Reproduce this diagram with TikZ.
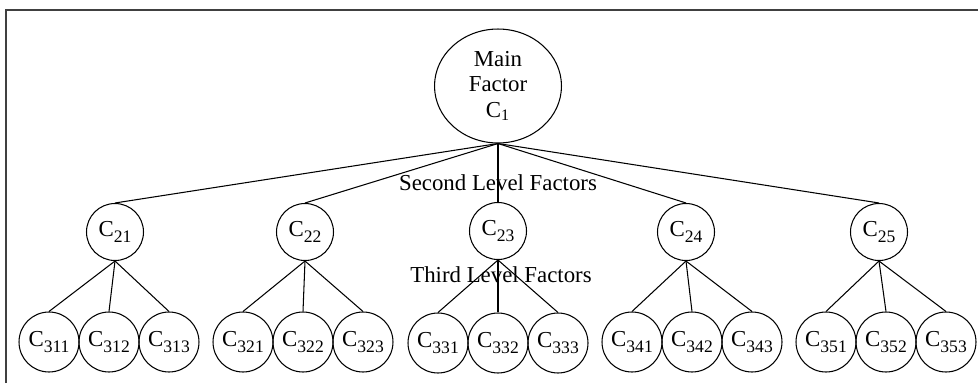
\documentclass[tikz,border=0pt]{standalone}
\usepackage{fontspec}
\setmainfont{Liberation Serif}
\usetikzlibrary{shapes.geometric}

% factor label: C with a large, low subscript
\newcommand{\fac}[1]{C\raisebox{-3.5pt}{\fontsize{10}{10}\selectfont #1}}

\begin{document}
\begin{tikzpicture}[x=0.02cm,y=-0.02cm,line width=0.6pt,
    font=\fontsize{13}{14.5}\selectfont]

        \useasboundingbox (0,0) rectangle (978,383);
        \draw[line width=1.2pt,black!75] (6,383) -- (6,10) -- (978,10);

        \node[ellipse,draw,minimum width=2.54cm,minimum height=2.28cm,
          inner sep=0pt,align=center] (c1) at (498,86)
          {Main\\Factor\\C\textsubscript{1}};

        \begin{scope}[every node/.style={circle,draw,minimum size=1.14cm,inner sep=0pt}]
          \node (c21) at (115,232) {\fac{21}};
          \node (c22) at (305,232) {\fac{22}};
          \node (c23) at (498,231) {\fac{23}};
          \node (c24) at (686,232) {\fac{24}};
          \node (c25) at (879,232) {\fac{25}};
        \end{scope}

        \begin{scope}[every node/.style={circle,draw,minimum size=1.2cm,inner sep=0pt}]
          \node (c311) at (49,342)  {\fac{311}};
          \node (c312) at (109,342) {\fac{312}};
          \node (c313) at (169,342) {\fac{313}};
          \node (c321) at (243,342) {\fac{321}};
          \node (c322) at (303,342) {\fac{322}};
          \node (c323) at (363,342) {\fac{323}};
          \node (c331) at (438,343) {\fac{331}};
          \node (c332) at (498,343) {\fac{332}};
          \node (c333) at (558,343) {\fac{333}};
          \node (c341) at (632,342) {\fac{341}};
          \node (c342) at (692,342) {\fac{342}};
          \node (c343) at (752,342) {\fac{343}};
          \node (c351) at (826,342) {\fac{351}};
          \node (c352) at (886,342) {\fac{352}};
          \node (c353) at (946,342) {\fac{353}};
        \end{scope}

        \begin{scope}[every edge/.style={draw}]
          \path (c1.south)  edge (c21.north);
          \path (c1.south)  edge (c22.north);
          \path (c1.south)  edge (c23.north);
          \path (c1.south)  edge (c24.north);
          \path (c1.south)  edge (c25.north);
          \path (c21.south) edge (c311.north);
          \path (c21.south) edge (c312.north);
          \path (c21.south) edge (c313.north);
          \path (c22.south) edge (c321.north);
          \path (c22.south) edge (c322.north);
          \path (c22.south) edge (c323.north);
          \path (c23.south) edge (c331.north);
          \path (c23.south) edge (c332.north);
          \path (c23.south) edge (c333.north);
          \path (c24.south) edge (c341.north);
          \path (c24.south) edge (c342.north);
          \path (c24.south) edge (c343.north);
          \path (c25.south) edge (c351.north);
          \path (c25.south) edge (c352.north);
          \path (c25.south) edge (c353.north);
        \end{scope}

        \node (second) at (498,183) {Second Level Factors};
        \node (third)  at (501,275) {Third Level Factors};

      \end{tikzpicture}
\end{document}
